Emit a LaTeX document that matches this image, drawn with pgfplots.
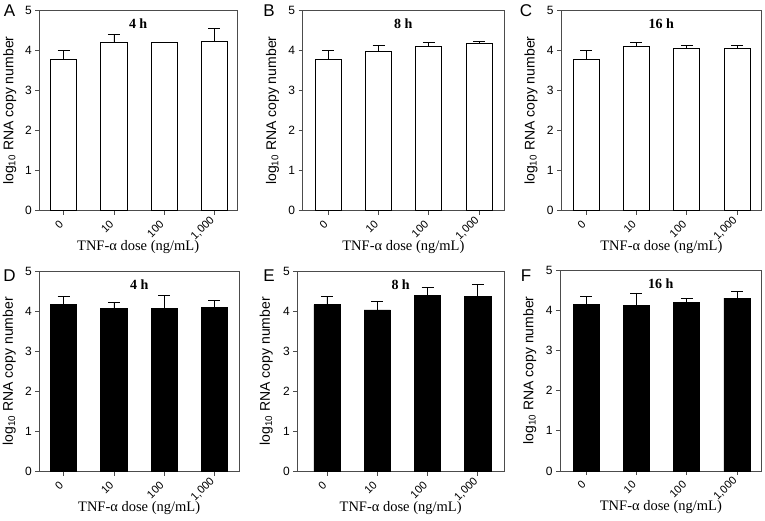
\documentclass[border=0pt]{standalone}
\usepackage{fontspec}
\setmainfont{Liberation Sans}
\newfontfamily\serif{Liberation Serif}
\usepackage{pgfplots}
\pgfplotsset{compat=1.18}
\pgfplotsset{
  panel/.style={
    scale only axis, anchor=south west,
    ymin=0, ymax=5,
    ytick={0,1,2,3,4,5}, xtick={0,1,2,3},
    xticklabels={0,10,100,{\raisebox{3pt}[7.5pt][0pt]{1,000}\kern-3pt}},
    tick align=outside, tick pos=left,
    major tick length=4pt,
    axis line style={black!70, line width=0.8pt},
    every tick/.style={black!70, line width=0.8pt},
    /pgf/number format/assume math mode=true,
    yticklabel style={font=\fontsize{12}{12}\selectfont},
    xticklabel style={font=\fontsize{11}{11}\selectfont, yshift=-7pt, xshift=-1.5pt, rotate=45, anchor=east, inner sep=1pt},
    ylabel={log\textsubscript{10} RNA copy number},
    ylabel style={font=\fontsize{14}{14}\selectfont, at={(axis description cs:-0.15,0.5)}, anchor=center},
    xlabel={TNF-α dose (ng/mL)},
    xlabel style={font=\serif\fontsize{14.5}{14.5}\selectfont, at={(axis description cs:0.5,-0.18)}, anchor=center},
  },
  openbar/.style={ybar, bar width=0.52, fill=white, draw=black, line width=0.8pt,
    error bars/.cd, y dir=plus, y explicit,
    error bar style={line width=0.8pt, black},
    error mark options={rotate=90, line width=0.8pt, black, mark size=6pt}},
  fullbar/.style={ybar, bar width=0.52, fill=black, draw=black, line width=0.8pt,
    error bars/.cd, y dir=plus, y explicit,
    error bar style={line width=0.8pt, black},
    error mark options={rotate=90, line width=0.8pt, black, mark size=6pt}},
}
\newcommand{\ptitle}[1]{\node[font=\serif\bfseries\fontsize{14}{14}\selectfont] at (axis description cs:0.5,0.933) {#1};}
\begin{document}
\begin{tikzpicture}
% A
\begin{axis}[panel, at={(39.3pt,309.3pt)}, width=197.7pt, height=200pt, xmin=-0.485, xmax=3.45]
\addplot[openbar] table[x=x, y=y, y error=e] {
x y e
0 3.78 0.22
1 4.20 0.20
2 4.20 0.00
3 4.23 0.32
};
\ptitle{4 h}
\end{axis}
% B
\begin{axis}[panel, at={(302.7pt,309.3pt)}, width=201.3pt, height=200pt, xmin=-0.507, xmax=3.495]
\addplot[openbar] table[x=x, y=y, y error=e] {
x y e
0 3.78 0.22
1 3.975 0.155
2 4.10 0.11
3 4.18 0.055
};
\ptitle{8 h}
\end{axis}
% C
\begin{axis}[panel, at={(561pt,309.3pt)}, width=200.7pt, height=200pt, xmin=-0.5, xmax=3.49]
\addplot[openbar] table[x=x, y=y, y error=e] {
x y e
0 3.78 0.22
1 4.10 0.11
2 4.06 0.065
3 4.06 0.065
};
\ptitle{16 h}
\end{axis}
% D
\begin{axis}[panel, at={(39.3pt,48.3pt)}, width=199.7pt, height=200.7pt, xmin=-0.485, xmax=3.49]
\addplot[fullbar] table[x=x, y=y, y error=e] {
x y e
0 4.17 0.19
1 4.07 0.14
2 4.07 0.315
3 4.095 0.175
};
\ptitle{4 h}
\end{axis}
% E
\begin{axis}[panel, at={(297.3pt,48.3pt)}, width=206.7pt, height=200.7pt, xmin=-0.59, xmax=3.52]
\addplot[fullbar] table[x=x, y=y, y error=e] {
x y e
0 4.16 0.20
1 4.03 0.21
2 4.40 0.19
3 4.37 0.30
};
\ptitle{8 h}
\end{axis}
% F
\begin{axis}[panel, at={(560pt,49pt)}, width=201.7pt, height=201pt, xmin=-0.52, xmax=3.49]
\addplot[fullbar] table[x=x, y=y, y error=e] {
x y e
0 4.15 0.20
1 4.12 0.31
2 4.19 0.10
3 4.30 0.16
};
\ptitle{16 h}
\end{axis}
\begin{scope}[every node/.style={font=\fontsize{17}{17}\selectfont, inner sep=0pt}]
\node at (9.5pt,509pt) {A};
\node at (269pt,509pt) {B};
\node at (526pt,509pt) {C};
\node at (9.5pt,244pt) {D};
\node at (269pt,244pt) {E};
\node at (526pt,244pt) {F};
\end{scope}
\pgfresetboundingbox
\useasboundingbox (0,0) rectangle (765pt,520pt);
\end{tikzpicture}
\end{document}
